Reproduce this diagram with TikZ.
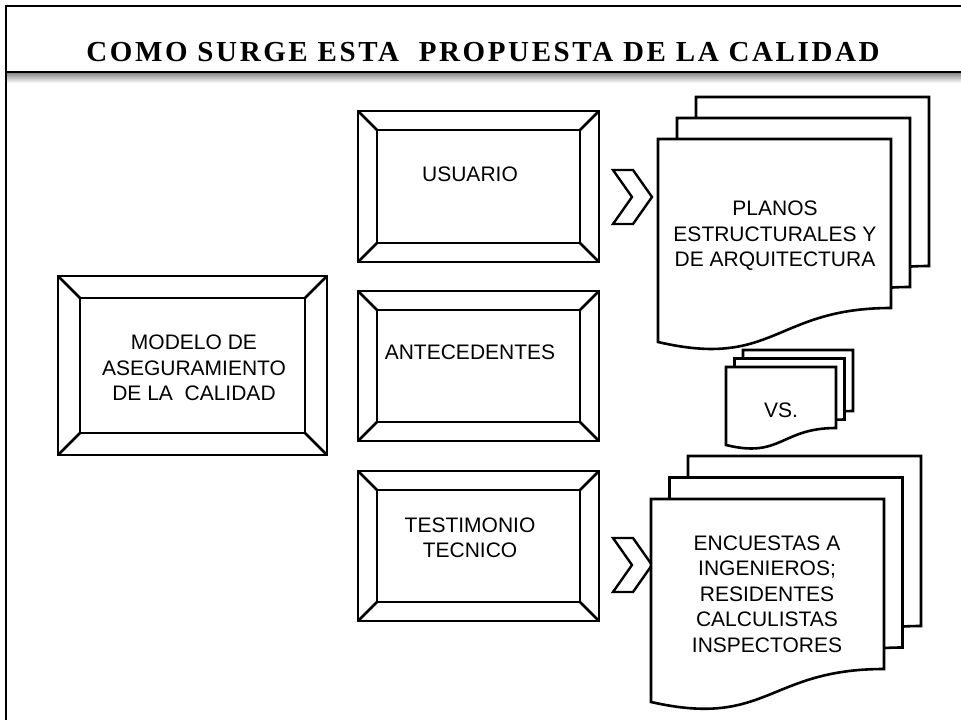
\documentclass[tikz,border=0pt]{standalone}
\usepackage{fontspec}
\setmainfont{Liberation Sans}
\newfontfamily\titlefont[LetterSpace=9]{Liberation Serif}
\usepackage{tikz}
\usetikzlibrary{calc}

\tikzset{
  frameline/.style={line width=2pt},
  boxline/.style={line width=2.6pt, line join=miter},
  docline/.style={line width=2.6pt, fill=white},
  chevline/.style={line width=2.4pt, fill=white, line join=miter},
  lbl/.style={font=\fontsize{21}{25.5}\selectfont, align=center, inner sep=0pt}
}

% bevelled frame: x1, y1, x2, y2, bevel
\newcommand{\bevelbox}[5]{%
  \draw[boxline] (#1,#2) rectangle (#3,#4);
  \draw[boxline] (#1+#5,#2+#5) rectangle (#3-#5,#4-#5);
  \draw[boxline] (#1,#2) -- (#1+#5,#2+#5);
  \draw[boxline] (#3,#2) -- (#3-#5,#2+#5);
  \draw[boxline] (#1,#4) -- (#1+#5,#4-#5);
  \draw[boxline] (#3,#4) -- (#3-#5,#4-#5);
}

% document page: x, y, width, right drop, left drop
\newcommand{\docpage}[5]{%
  \filldraw[docline] (#1,#2) -- (#1+#3,#2) -- (#1+#3,#2+#4)
    .. controls (#1+0.5*#3,#2+#4) and ({#1+0.5*#3},{#2+#5+0.8*(#5-#4)}) .. (#1,#2+#5) -- cycle;
}

% chevron: x, y (top left), width, height, depth
\newcommand{\chevron}[5]{%
  \filldraw[chevline] (#1,#2) -- (#1+#3-#5,#2) -- (#1+#3,#2+0.5*#4)
    -- (#1+#3-#5,#2+#4) -- (#1,#2+#4) -- (#1+#5,#2+0.5*#4) -- cycle;
}

\begin{document}
\begin{tikzpicture}[x=1pt, y=-1pt]
  \useasboundingbox (0,0) rectangle (961,720);

  % Draw frame and title bar
  \shade[top color=black!45, bottom color=white] (6,73) rectangle (961,83);
  \draw[frameline] (6,720) -- (6,6) -- (961,6);
  \draw[line width=2.6pt] (6,72) -- (961,72);
  \node (title) at (483,52) {\titlefont\bfseries\fontsize{29}{32}\selectfont COMO SURGE ESTA\ \ PROPUESTA DE LA CALIDAD};

  % Draw bevelled boxes
  \bevelbox{58}{276}{327}{455}{22}
  \bevelbox{358}{111}{599}{262}{19}
  \bevelbox{358}{291}{599}{441}{19}
  \bevelbox{358}{471}{599}{621}{19}

  \node[lbl] (modelo) at (194,368) {MODELO DE\\ASEGURAMIENTO\\DE LA\ \ CALIDAD};
  \node[lbl] (usuario) at (470,174) {USUARIO};
  \node[lbl] (antecedentes) at (470,352) {ANTECEDENTES};
  \node[lbl] (testimonio) at (470,538) {TESTIMONIO\\TECNICO};

  % Draw chevrons
  \chevron{613}{170}{39}{54}{19}
  \chevron{613}{538}{39}{54}{19}

  % Draw VS pages
  \docpage{743}{350}{110}{61}{78}
  \docpage{734.5}{358.5}{110}{61}{78}
  \docpage{726}{367}{110}{61}{78}
  \node[lbl] (vs) at (781,410) {VS.};

  % Draw planos pages
  \docpage{696}{97}{233}{169}{203}
  \docpage{677}{118}{233}{169}{203}
  \docpage{658}{139}{233}{169}{203}
  \node[lbl] (planos) at (775,236) {PLANOS\\ESTRUCTURALES Y\\DE ARQUITECTURA};

  % Draw encuestas pages
  \docpage{688}{456}{233}{170}{203}
  \docpage{669.5}{477.5}{233}{170}{203}
  \docpage{651}{499}{233}{170}{203}
  \node[lbl] (encuestas) at (767,594) {ENCUESTAS A\\INGENIEROS;\\RESIDENTES\\CALCULISTAS\\INSPECTORES};
\end{tikzpicture}
\end{document}
